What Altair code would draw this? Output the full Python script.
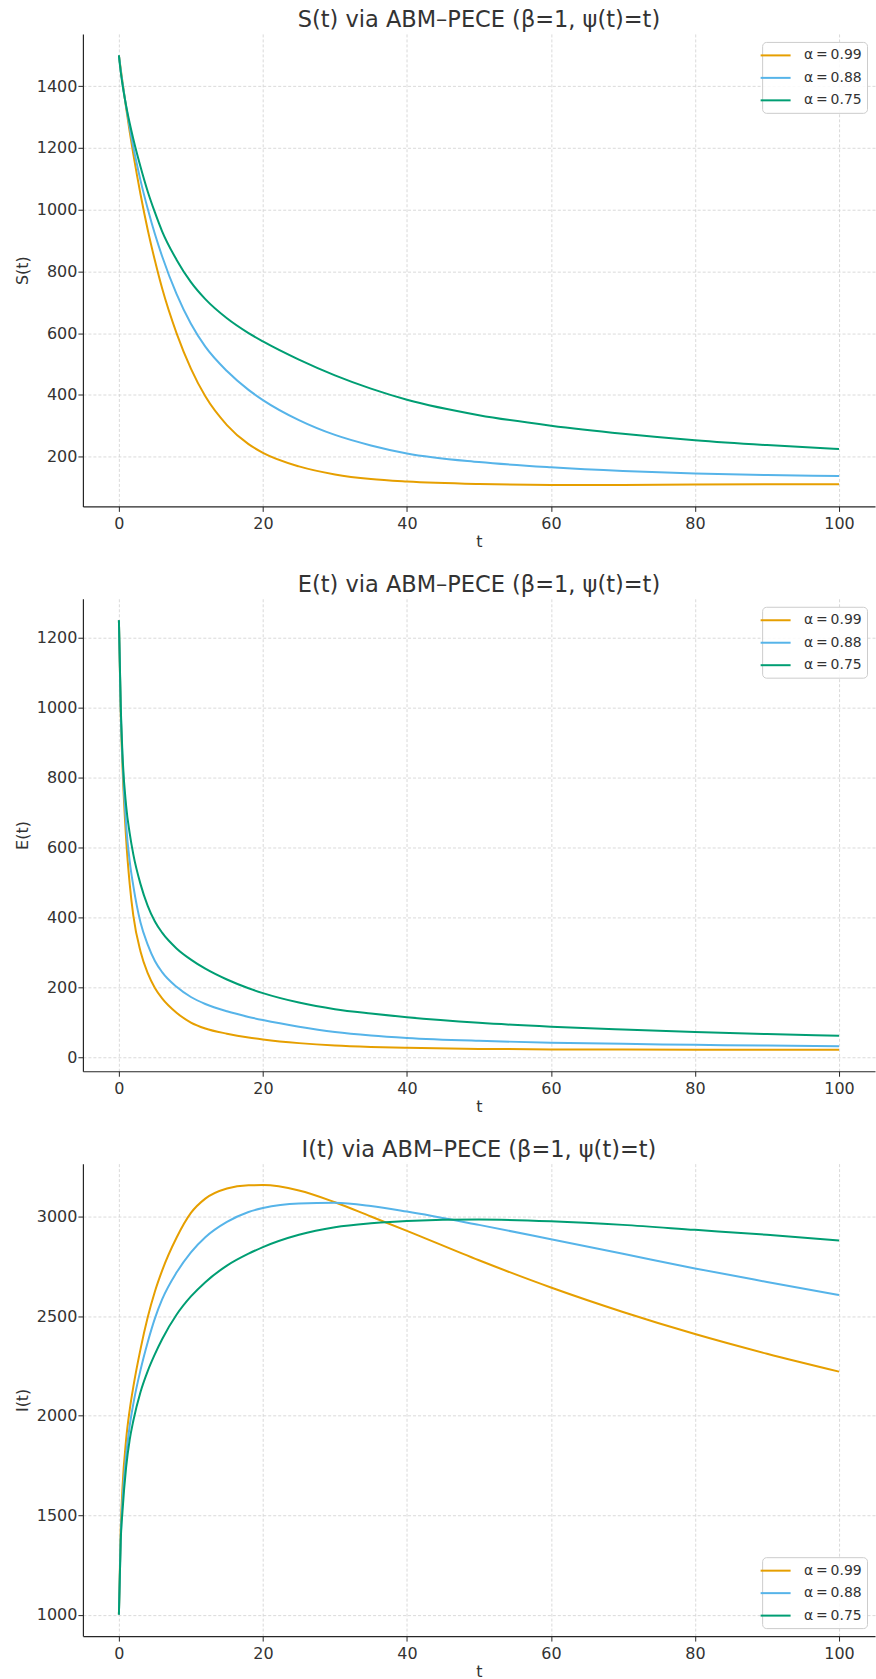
import altair as alt
import pandas as pd

# time grid (read positions)
t = [0, 0.25, 0.5, 1, 1.5, 2, 3, 4, 5, 6, 8, 10, 12, 15, 18, 20, 25, 30, 35, 40, 50, 60, 70, 80, 90, 100]

series_labels = ["α\u2009=\u20090.99", "α\u2009=\u20090.88", "α\u2009=\u20090.75"]
colors = ["#E69F00", "#56B4E9", "#009E73"]

# S(t)
S_099 = [1500, 1456, 1413, 1330, 1252, 1180, 1050, 935, 835, 745, 600, 485, 395, 302, 240, 212, 168, 142, 127, 119, 111, 108, 108, 109, 110, 110]
S_088 = [1500, 1452, 1410, 1335, 1266, 1203, 1095, 1003, 921, 849, 727, 630, 556, 477, 416, 383, 318, 270, 236, 210, 182, 165, 153, 145, 140, 137]
S_075 = [1500, 1447, 1405, 1337, 1280, 1229, 1139, 1059, 991, 930, 838, 765, 710, 648, 600, 573, 514, 463, 420, 384, 334, 300, 274, 253, 237, 224]

# E(t)
E_099 = [1250, 990, 830, 625, 495, 405, 302, 240, 198, 168, 127, 99, 82, 67, 56, 50.5, 40, 33, 29, 26.5, 23.5, 22, 21.5, 21.2, 21, 21]
E_088 = [1250, 1000, 850, 665, 560, 490, 385, 322, 275, 243, 201, 172, 152, 131, 115, 106, 87, 72, 62, 55, 46.5, 41, 38, 35, 33, 31]
E_075 = [1250, 1010, 865, 720, 640, 580, 495, 433, 388, 356, 311, 279, 253, 222, 197, 183, 156, 137, 124.5, 114, 98, 87, 79, 72, 66, 61]

# I(t)
I_099 = [1000, 1420, 1640, 1880, 2030, 2145, 2335, 2495, 2625, 2730, 2895, 3020, 3092, 3143, 3159, 3160, 3133, 3074, 3002, 2930, 2782, 2645, 2522, 2411, 2312, 2222]
I_088 = [1000, 1380, 1570, 1800, 1950, 2060, 2230, 2370, 2490, 2585, 2720, 2822, 2898, 2975, 3025, 3045, 3068, 3071, 3055, 3027, 2960, 2888, 2815, 2741, 2673, 2607]
I_075 = [1000, 1370, 1520, 1740, 1880, 1975, 2120, 2225, 2310, 2385, 2508, 2600, 2672, 2755, 2815, 2848, 2910, 2948, 2968, 2980, 2987, 2978, 2960, 2935, 2910, 2881]

x_ticks = [0, 20, 40, 60, 80, 100]
S_ticks = [200, 400, 600, 800, 1000, 1200, 1400]
E_ticks = [0, 200, 400, 600, 800, 1000, 1200]
I_ticks = [1000, 1500, 2000, 2500, 3000]

TXT = "#333333"
FONT = "DejaVu Sans"


def padded(vals_list):
    lo = min(min(v) for v in vals_list)
    hi = max(max(v) for v in vals_list)
    m = 0.05 * (hi - lo)
    return [lo - m, hi + m]


def panel(vals_list, title, ytitle, yticks, legend_orient):
    ydom = padded(vals_list)
    layers = []
    for lab, vals in zip(series_labels, vals_list):
        df = pd.DataFrame({"t": t, "value": vals, "series": [lab] * len(t)})
        layers.append(
            alt.Chart(df)
            .mark_line(strokeWidth=2, interpolate="monotone", clip=True)
            .encode(
                x=alt.X("t:Q",
                        scale=alt.Scale(domain=[-5, 105], nice=False, zero=False),
                        axis=alt.Axis(values=x_ticks, title="t", format="d")),
                y=alt.Y("value:Q",
                        scale=alt.Scale(domain=ydom, nice=False, zero=False),
                        axis=alt.Axis(values=yticks, title=ytitle, format="d")),
                color=alt.Color("series:N",
                                scale=alt.Scale(domain=series_labels, range=colors),
                                legend=alt.Legend(title=None, orient=legend_orient)),
            )
        )
    return alt.layer(*layers).properties(
        width=793, height=473,
        title=alt.TitleParams(title, fontSize=22.5, font=FONT, fontWeight="normal",
                              color=TXT, anchor="middle", baseline="alphabetic", offset=-16),
    )


p1 = panel([S_099, S_088, S_075], "S(t) via ABM–PECE (β=1, ψ(t)=t)", "S(t)", S_ticks, "top-right")
p2 = panel([E_099, E_088, E_075], "E(t) via ABM–PECE (β=1, ψ(t)=t)", "E(t)", E_ticks, "top-right")
p3 = panel([I_099, I_088, I_075], "I(t) via ABM–PECE (β=1, ψ(t)=t)", "I(t)", I_ticks, "bottom-right")

chart = (
    alt.vconcat(p1, p2, p3, spacing=92.5, bounds="flush")
    .resolve_scale(color="independent")
    .resolve_legend(color="independent")
    .properties(padding={"left": 13, "top": 8, "right": 0, "bottom": 0})
    .configure(font=FONT)
    .configure_view(stroke="transparent")
    .configure_axis(
        labelFont=FONT, titleFont=FONT, labelFontSize=16, titleFontSize=16,
        titleFontWeight="normal", labelColor=TXT, titleColor=TXT,
        domainColor="#262626", domainWidth=1.2, tickColor="#262626", tickSize=5, tickWidth=1,
        gridColor="#d0d0d0", gridDash=[3, 2], gridWidth=0.8,
    )
    .configure_axisY(labelPadding=1, titlePadding=6)
    .configure_axisX(labelPadding=4, titlePadding=2)
    .configure_legend(
        fillColor="rgba(255,255,255,0.85)", strokeColor="#cccccc", cornerRadius=4,
        padding=5, symbolType="M-2,0L2,0", symbolSize=225, symbolStrokeWidth=2,
        labelFont=FONT, labelFontSize=14, labelColor=TXT, labelOffset=20,
        rowPadding=6.5, offset=8,
    )
)

chart.save("out.html", embed_options={"renderer": "svg", "actions": False})
